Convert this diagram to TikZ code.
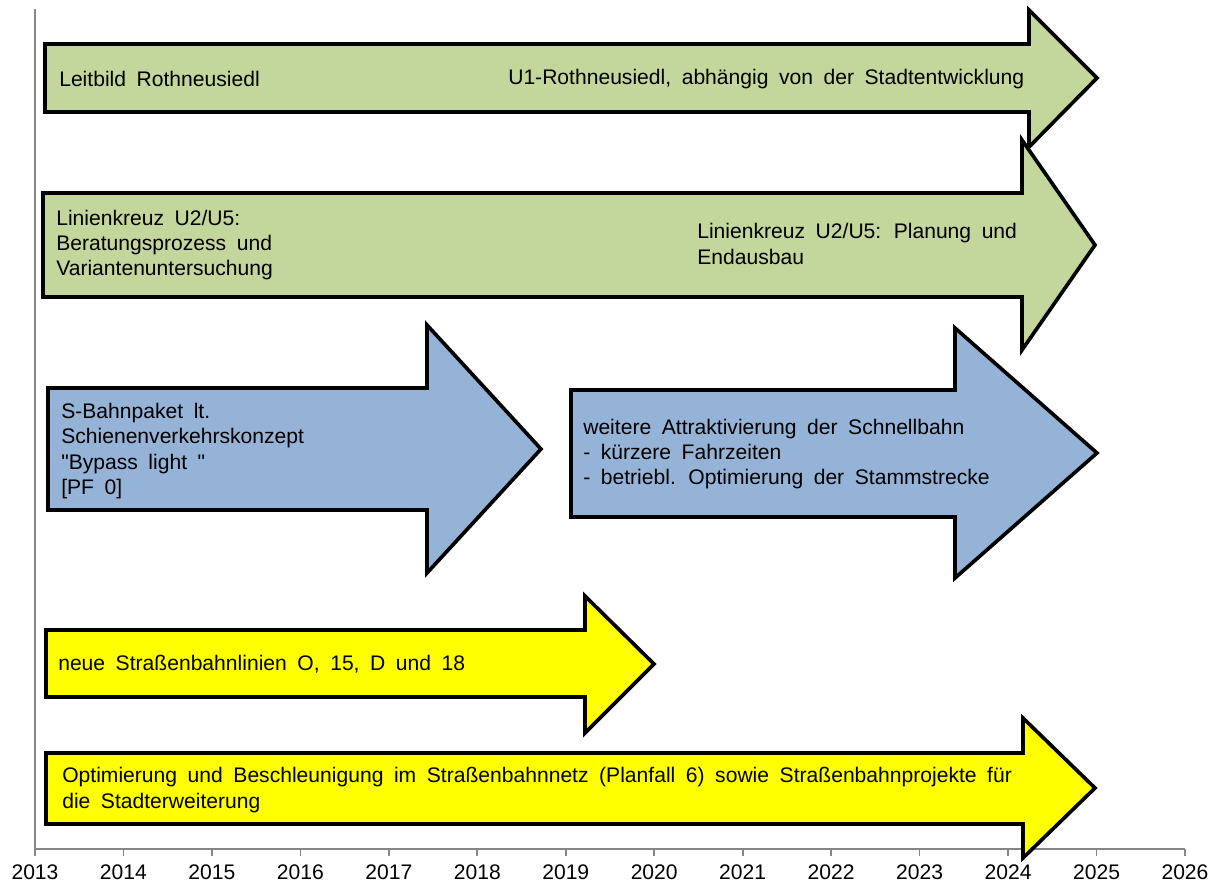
\documentclass[tikz,border=0pt]{standalone}
\usepackage{fontspec}
\newfontfamily\chartfont{Liberation Sans}[WordSpace=1.8]
\definecolor{olivefill}{RGB}{195,214,155}
\definecolor{bluefill}{RGB}{149,179,215}
\definecolor{yellowfill}{RGB}{255,255,0}
\definecolor{axisgray}{RGB}{134,134,134}
\tikzset{
  blockarrow/.style={draw=black,line width=2.6pt,line join=miter},
  greenarrow/.style={blockarrow,fill=olivefill},
  bluearrow/.style={blockarrow,fill=bluefill},
  yellowarrow/.style={blockarrow,fill=yellowfill},
  txt/.style={anchor=west,align=left,inner sep=0pt,font=\chartfont\fontsize{15}{18.1}\selectfont},
  yearlabel/.style={inner sep=0pt,font=\chartfont\fontsize{15}{17}\selectfont}
}
\begin{document}
\begin{tikzpicture}[x=0.025cm,y=-0.025cm]
      \useasboundingbox (0,0) rectangle (1210,884);
      \draw[axisgray,line width=1.5pt] (35,9) -- (35,849) -- (1185,849);
      \foreach \yr [count=\i from 0] in {2013,...,2026} {
        \draw[axisgray,line width=1.2pt] (35+88.46*\i,849) -- (35+88.46*\i,856);
        \node[yearlabel] (y\yr) at (35+88.46*\i,872) {\yr};
      }
      \draw[greenarrow] (45,44) -- (1029,44) -- (1029,10) -- (1097,78)
        -- (1029,147) -- (1029,112) -- (45,112) -- cycle;
      \draw[greenarrow] (43,193) -- (1022,193) -- (1022,140) -- (1095,245)
        -- (1022,350) -- (1022,297) -- (43,297) -- cycle;
      \draw[bluearrow] (48,388) -- (427,388) -- (427,325) -- (541,449)
        -- (427,573) -- (427,510) -- (48,510) -- cycle;
      \draw[bluearrow] (571,390) -- (955,390) -- (955,328) -- (1097,453)
        -- (955,578) -- (955,517) -- (571,517) -- cycle;
      \draw[yellowarrow] (46,630) -- (585,630) -- (585,596) -- (654,664)
        -- (585,733) -- (585,697) -- (46,697) -- cycle;
      \draw[yellowarrow] (46,753) -- (1023,753) -- (1023,718) -- (1095,788)
        -- (1023,858) -- (1023,824) -- (46,824) -- cycle;
      \node[txt] (leitbild) at (59,79) {Leitbild Rothneusiedl};
      \node[txt] (u1) at (508,79) {U1-Rothneusiedl, abhängig von der Stadtentwicklung};
      \node[txt] (kreuzA) at (56,245) {Linienkreuz U2/U5:\\Beratungsprozess und\\Variantenuntersuchung};
      \node[txt] (kreuzB) at (697,244) {Linienkreuz U2/U5: Planung und\\Endausbau};
      \node[txt] (sbahn) at (61,451) {S-Bahnpaket lt.\\Schienenverkehrskonzept\\"Bypass light "\\{[PF 0]}};
      \node[txt] (schnell) at (583,454) {weitere Attraktivierung der Schnellbahn\\- kürzere Fahrzeiten\\- betriebl. Optimierung der Stammstrecke};
      \node[txt] (tram) at (58,664) {neue Straßenbahnlinien O, 15, D und 18};
      \node[txt] (optim) at (62,790) {Optimierung und Beschleunigung im Straßenbahnnetz (Planfall 6) sowie Straßenbahnprojekte für\\die Stadterweiterung};
    \end{tikzpicture}
\end{document}
